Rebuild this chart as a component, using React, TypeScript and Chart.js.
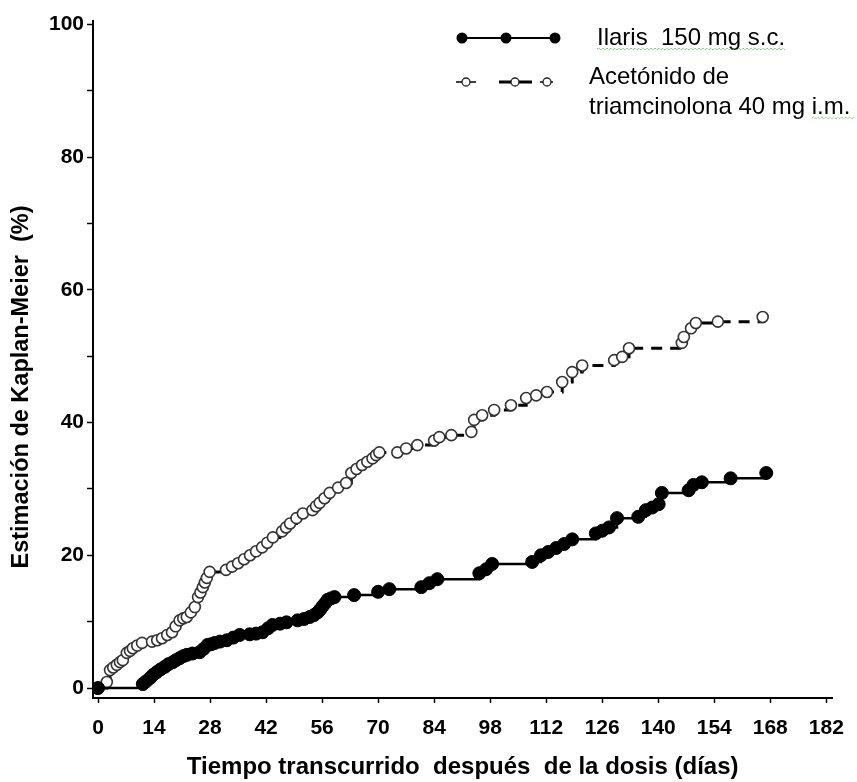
import React, { useEffect, useRef } from 'react';
import { Chart, registerables } from 'chart.js';

Chart.register(...registerables);

// ---- data ----
const ilarisDays = [0, 11.2, 12, 13, 13.8, 14.7, 15.6, 16.7, 17.6, 18.7, 19.5, 20.4, 21.3, 22.2, 23.6, 25.4, 26.4, 27.4, 28.3, 29.2, 30.5, 32.2, 33.8, 35.4, 37.9, 39.5, 41.1, 42.5, 43.6, 45.5, 47.1, 49.9, 51.5, 52.9, 54.0, 54.9, 55.5, 56.1, 56.8, 57.4, 58.2, 59.1, 64, 70, 72.8, 80.8, 82.8, 84.8, 95.3, 97, 98.5, 108.5, 110.7, 112.5, 114.5, 116.5, 118.5, 124.4, 126, 127.7, 129.7, 135, 136.9, 138.5, 140.1, 140.9, 147.6, 148.8, 150.9, 158.1, 167];
const ilarisPct = [0, 0.6, 1.0, 1.5, 2.0, 2.4, 2.8, 3.2, 3.6, 3.9, 4.2, 4.5, 4.8, 5.0, 5.2, 5.4, 5.9, 6.5, 6.6, 6.8, 7.0, 7.2, 7.6, 8.0, 8.1, 8.2, 8.4, 9.0, 9.5, 9.7, 9.9, 10.2, 10.4, 10.7, 11.0, 11.4, 11.8, 12.3, 12.8, 13.3, 13.5, 13.7, 14.0, 14.5, 14.9, 15.2, 15.8, 16.4, 17.3, 17.9, 18.7, 19.0, 20.0, 20.5, 21.1, 21.7, 22.4, 23.3, 23.7, 24.2, 25.6, 25.8, 26.8, 27.2, 27.7, 29.4, 29.8, 30.6, 31.0, 31.6, 32.4];

const triamDays = [0, 2.2, 3, 3.8, 4.7, 5.5, 6.2, 7.2, 8, 8.7, 9.8, 11, 13.5, 14.8, 16, 17.3, 18.5, 19.4, 20.4, 21.3, 22.2, 23.2, 24.2, 25, 25.6, 26.2, 26.7, 27.2, 27.9, 32, 33.5, 35, 36.5, 38, 39.5, 41, 42.3, 43.7, 46, 47, 48, 49.6, 51.2, 53.6, 54.5, 55.4, 56.6, 57.9, 60, 62, 63.3, 64.6, 66, 67.3, 68.6, 69.5, 70.3, 74.8, 77, 79.8, 84, 85.3, 88.3, 93.3, 94, 96, 99, 103.2, 107, 109.5, 112.2, 116, 118.5, 121, 129, 131, 132.7, 145.9, 146.4, 148.2, 149.4, 154.9, 166.1];
const triamPct = [0, 0.9, 2.7, 3.1, 3.5, 3.9, 4.2, 5.3, 5.6, 6.0, 6.4, 6.8, 7.0, 7.2, 7.5, 8.0, 8.4, 9.3, 10.2, 10.5, 10.7, 11.4, 12.2, 13.7, 14.4, 15.2, 15.9, 16.6, 17.5, 17.8, 18.3, 18.8, 19.4, 20.0, 20.6, 21.2, 21.9, 22.7, 23.6, 24.2, 24.8, 25.6, 26.3, 26.8, 27.4, 27.9, 28.6, 29.4, 30.2, 30.9, 32.4, 33.0, 33.6, 34.1, 34.6, 35.1, 35.5, 35.5, 36.1, 36.6, 37.3, 37.8, 38.1, 38.6, 40.4, 41.1, 41.9, 42.6, 43.7, 44.1, 44.6, 46.1, 47.6, 48.6, 49.4, 49.9, 51.2, 52.0, 52.9, 54.2, 55.0, 55.2, 55.9];

const xTickValues = [0, 14, 28, 42, 56, 70, 84, 98, 112, 126, 140, 154, 168, 182];
const yTickValues = [0, 10, 20, 30, 40, 50, 60, 70, 80, 90, 100];
const yLabelValues = [0, 20, 40, 60, 80, 100];

const seriesNames = ['Ilaris  150 mg s.c.', 'Acetónido de', 'triamcinolona 40 mg i.m.'];
const xTitle = 'Tiempo transcurrido  después  de la dosis (días)';
const yTitle = 'Estimación de Kaplan-Meier  (%)';

const FONT = "'Liberation Sans', Arial, sans-serif";

function squiggle(ctx: CanvasRenderingContext2D, x0: number, x1: number, y: number) {
  ctx.save();
  ctx.strokeStyle = '#3cb043';
  ctx.lineWidth = 1;
  ctx.setLineDash([1, 1]);
  ctx.beginPath();
  let up = true;
  ctx.moveTo(x0, y);
  for (let x = x0 + 2; x <= x1; x += 2) {
    ctx.lineTo(x, up ? y - 1 : y + 1);
    up = !up;
  }
  ctx.stroke();
  ctx.restore();
}

const decorPlugin = {
  id: 'decor',
  afterDraw(chart: any) {
    const ctx: CanvasRenderingContext2D = chart.ctx;
    ctx.save();
    // y title
    ctx.translate(22, 387);
    ctx.rotate(-Math.PI / 2);
    ctx.font = `bold 23.5px ${FONT}`;
    ctx.fillStyle = '#000';
    ctx.textAlign = 'center';
    ctx.textBaseline = 'middle';
    ctx.fillText(yTitle, 0, 0);
    ctx.restore();

    // legend
    ctx.save();
    ctx.strokeStyle = '#000';
    ctx.fillStyle = '#000';
    ctx.lineWidth = 2;
    ctx.beginPath();
    ctx.moveTo(462, 38);
    ctx.lineTo(555, 38);
    ctx.stroke();
    [462, 506, 555].forEach((x) => {
      ctx.beginPath();
      ctx.arc(x, 38, 5.5, 0, Math.PI * 2);
      ctx.fill();
    });
    // dashed legend for triamcinolone
    [[456, 476], [499, 532], [540, 553]].forEach(([a, b], i) => {
      ctx.lineWidth = i === 1 ? 3 : 1.5;
      ctx.beginPath();
      ctx.moveTo(a, 82);
      ctx.lineTo(b, 82);
      ctx.stroke();
    });
    [466, 515, 547].forEach((x) => {
      ctx.beginPath();
      ctx.arc(x, 82, 4, 0, Math.PI * 2);
      ctx.fillStyle = '#fff';
      ctx.fill();
      ctx.lineWidth = 1.3;
      ctx.strokeStyle = '#222';
      ctx.stroke();
    });
    ctx.fillStyle = '#000';
    ctx.font = `24px ${FONT}`;
    ctx.textAlign = 'left';
    ctx.textBaseline = 'middle';
    ctx.fillText(seriesNames[0], 597, 38);
    ctx.fillText(seriesNames[1], 589, 77);
    ctx.fillText(seriesNames[2], 589, 107);
    const w0 = ctx.measureText(seriesNames[0]).width;
    squiggle(ctx, 597, 597 + w0, 49);
    const w2 = ctx.measureText(seriesNames[2]).width;
    const wim = ctx.measureText('i.m.').width;
    squiggle(ctx, 589 + w2 - wim, 589 + w2 + 4, 118);
    ctx.restore();
  },
};

export default function App() {
  const ref = useRef<HTMLCanvasElement | null>(null);

  useEffect(() => {
    document.body.style.margin = '0';
    const canvas = ref.current;
    if (!canvas) return;
    const chart = new Chart(canvas, {
      type: 'line',
      data: {
        datasets: [
          {
            label: seriesNames[0],
            data: ilarisDays.map((d, i) => ({ x: d, y: ilarisPct[i] })),
            stepped: true,
            borderColor: '#000',
            borderWidth: 2.5,
            pointRadius: 6.5,
            pointBackgroundColor: '#000',
            pointBorderColor: '#000',
            pointBorderWidth: 1,
            fill: false,
          },
          {
            label: seriesNames[1] + ' ' + seriesNames[2],
            data: triamDays.map((d, i) => ({ x: d, y: triamPct[i] })),
            stepped: true,
            borderColor: '#000',
            borderWidth: 3,
            borderDash: [11, 8],
            pointRadius: 5.5,
            pointBackgroundColor: '#fff',
            pointBorderColor: '#333',
            pointBorderWidth: 1.6,
            fill: false,
          },
        ],
      },
      options: {
        animation: false,
        responsive: false,
        devicePixelRatio: 1,
        layout: { padding: { top: 21, right: 23, left: 0, bottom: 0 } },
        plugins: {
          legend: { display: false },
          tooltip: { enabled: false },
        },
        scales: {
          x: {
            type: 'linear',
            min: -1.25,
            max: 183.5,
            afterFit: (s: any) => { s.height = 84; },
            afterBuildTicks: (s: any) => { s.ticks = xTickValues.map((v) => ({ value: v })); },
            ticks: {
              autoSkip: false,
              maxRotation: 0,
              color: '#000',
              padding: 13,
              font: { family: FONT, weight: 'bold', size: 21 },
              callback: (v: any) => String(v),
            },
            grid: { drawOnChartArea: false, drawTicks: true, tickLength: 5, tickWidth: 1.5, tickColor: '#000' },
            border: { display: true, color: '#000', width: 2 },
            title: {
              display: true,
              text: xTitle,
              color: '#000',
              font: { family: FONT, weight: 'bold', size: 24 },
              padding: { top: 0, bottom: 0 },
            },
          },
          y: {
            type: 'linear',
            min: -1.5,
            max: 100.5,
            afterFit: (s: any) => { s.width = 93; },
            afterBuildTicks: (s: any) => { s.ticks = yTickValues.map((v) => ({ value: v })); },
            ticks: {
              autoSkip: false,
              color: '#000',
              padding: 3,
              font: { family: FONT, weight: 'bold', size: 21 },
              callback: (v: any) => (yLabelValues.includes(v) ? String(v) : ''),
            },
            grid: { drawOnChartArea: false, drawTicks: true, tickLength: 6, tickWidth: 1.5, tickColor: '#000' },
            border: { display: true, color: '#000', width: 2 },
          },
        },
      } as any,
      plugins: [decorPlugin],
    });
    return () => chart.destroy();
  }, []);

  return <canvas ref={ref} width={857} height={782} style={{ display: 'block' }} />;
}
